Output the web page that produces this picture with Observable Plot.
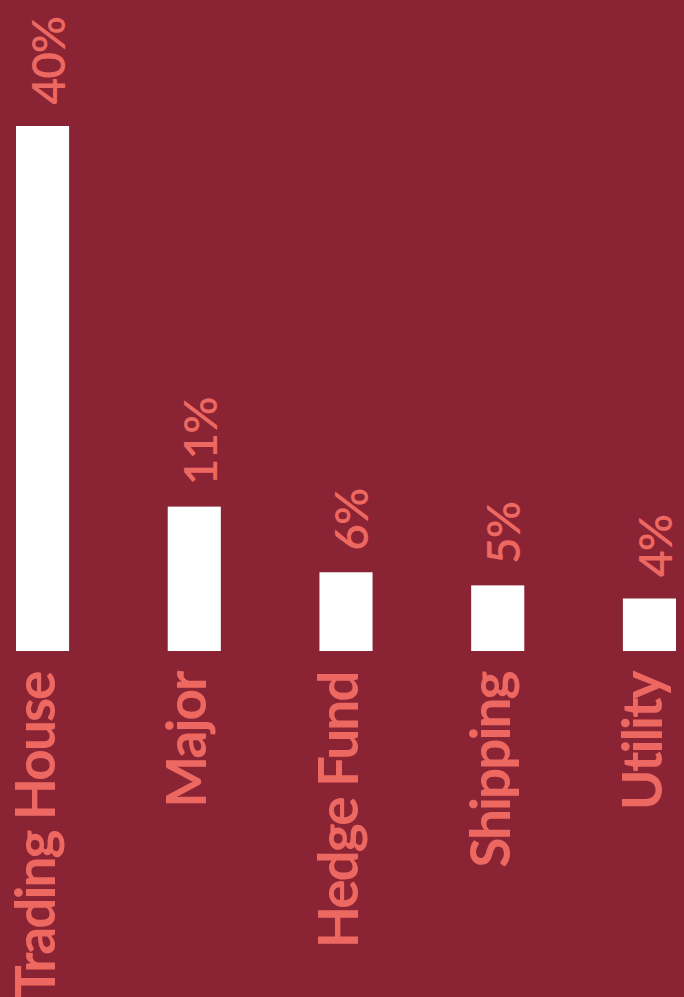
<!DOCTYPE html>
<html>
<head>
<meta charset="utf-8">
<script src="https://cdn.jsdelivr.net/npm/d3@7"></script>
<script src="https://cdn.jsdelivr.net/npm/@observablehq/plot@0.6"></script>
<style>
  html, body { margin: 0; padding: 0; background: #8A2333; }
  #chart svg { display: block; }
  .cat-label text { letter-spacing: -2px; }
  .pct-label text { letter-spacing: -1px; }
</style>
</head>
<body>
<div id="chart"></div>
<script>
const categories = ["Trading House", "Major", "Hedge Fund", "Shipping", "Utility"];
const shares = [40, 11, 6, 5, 4];
const shareLabels = ["40%", "11%", "6%", "5%", "4%"];

const data = categories.map((c, i) => ({ category: c, share: shares[i], label: shareLabels[i] }));

const textColor = "#EE6862";

const chart = Plot.plot({
  width: 684,
  height: 997,
  marginLeft: 16,
  marginRight: 8,
  marginTop: 126,
  marginBottom: 346,
  x: { domain: categories, paddingInner: 0.65, paddingOuter: 0, round: false, axis: null },
  y: { domain: [0, 40], axis: null },
  style: { background: "#8A2333" },
  marks: [
    Plot.barY(data, { x: "category", y: "share", fill: "white" }),
    Plot.text(data, {
      x: "category", y: "share", text: "label",
      rotate: -90, textAnchor: "start", lineAnchor: "middle",
      dx: 7, dy: -22, className: "pct-label",
      fill: textColor, fontSize: 46, fontFamily: "Lato", fontWeight: 600
    }),
    Plot.text(data, {
      x: "category", y: d => 0, text: "category",
      rotate: -90, textAnchor: "end", lineAnchor: "middle",
      dx: -6, dy: 21, className: "cat-label",
      fill: textColor, fontSize: 55, fontFamily: "Lato", fontWeight: 700
    })
  ]
});
document.getElementById("chart").append(chart);
</script>
</body>
</html>
